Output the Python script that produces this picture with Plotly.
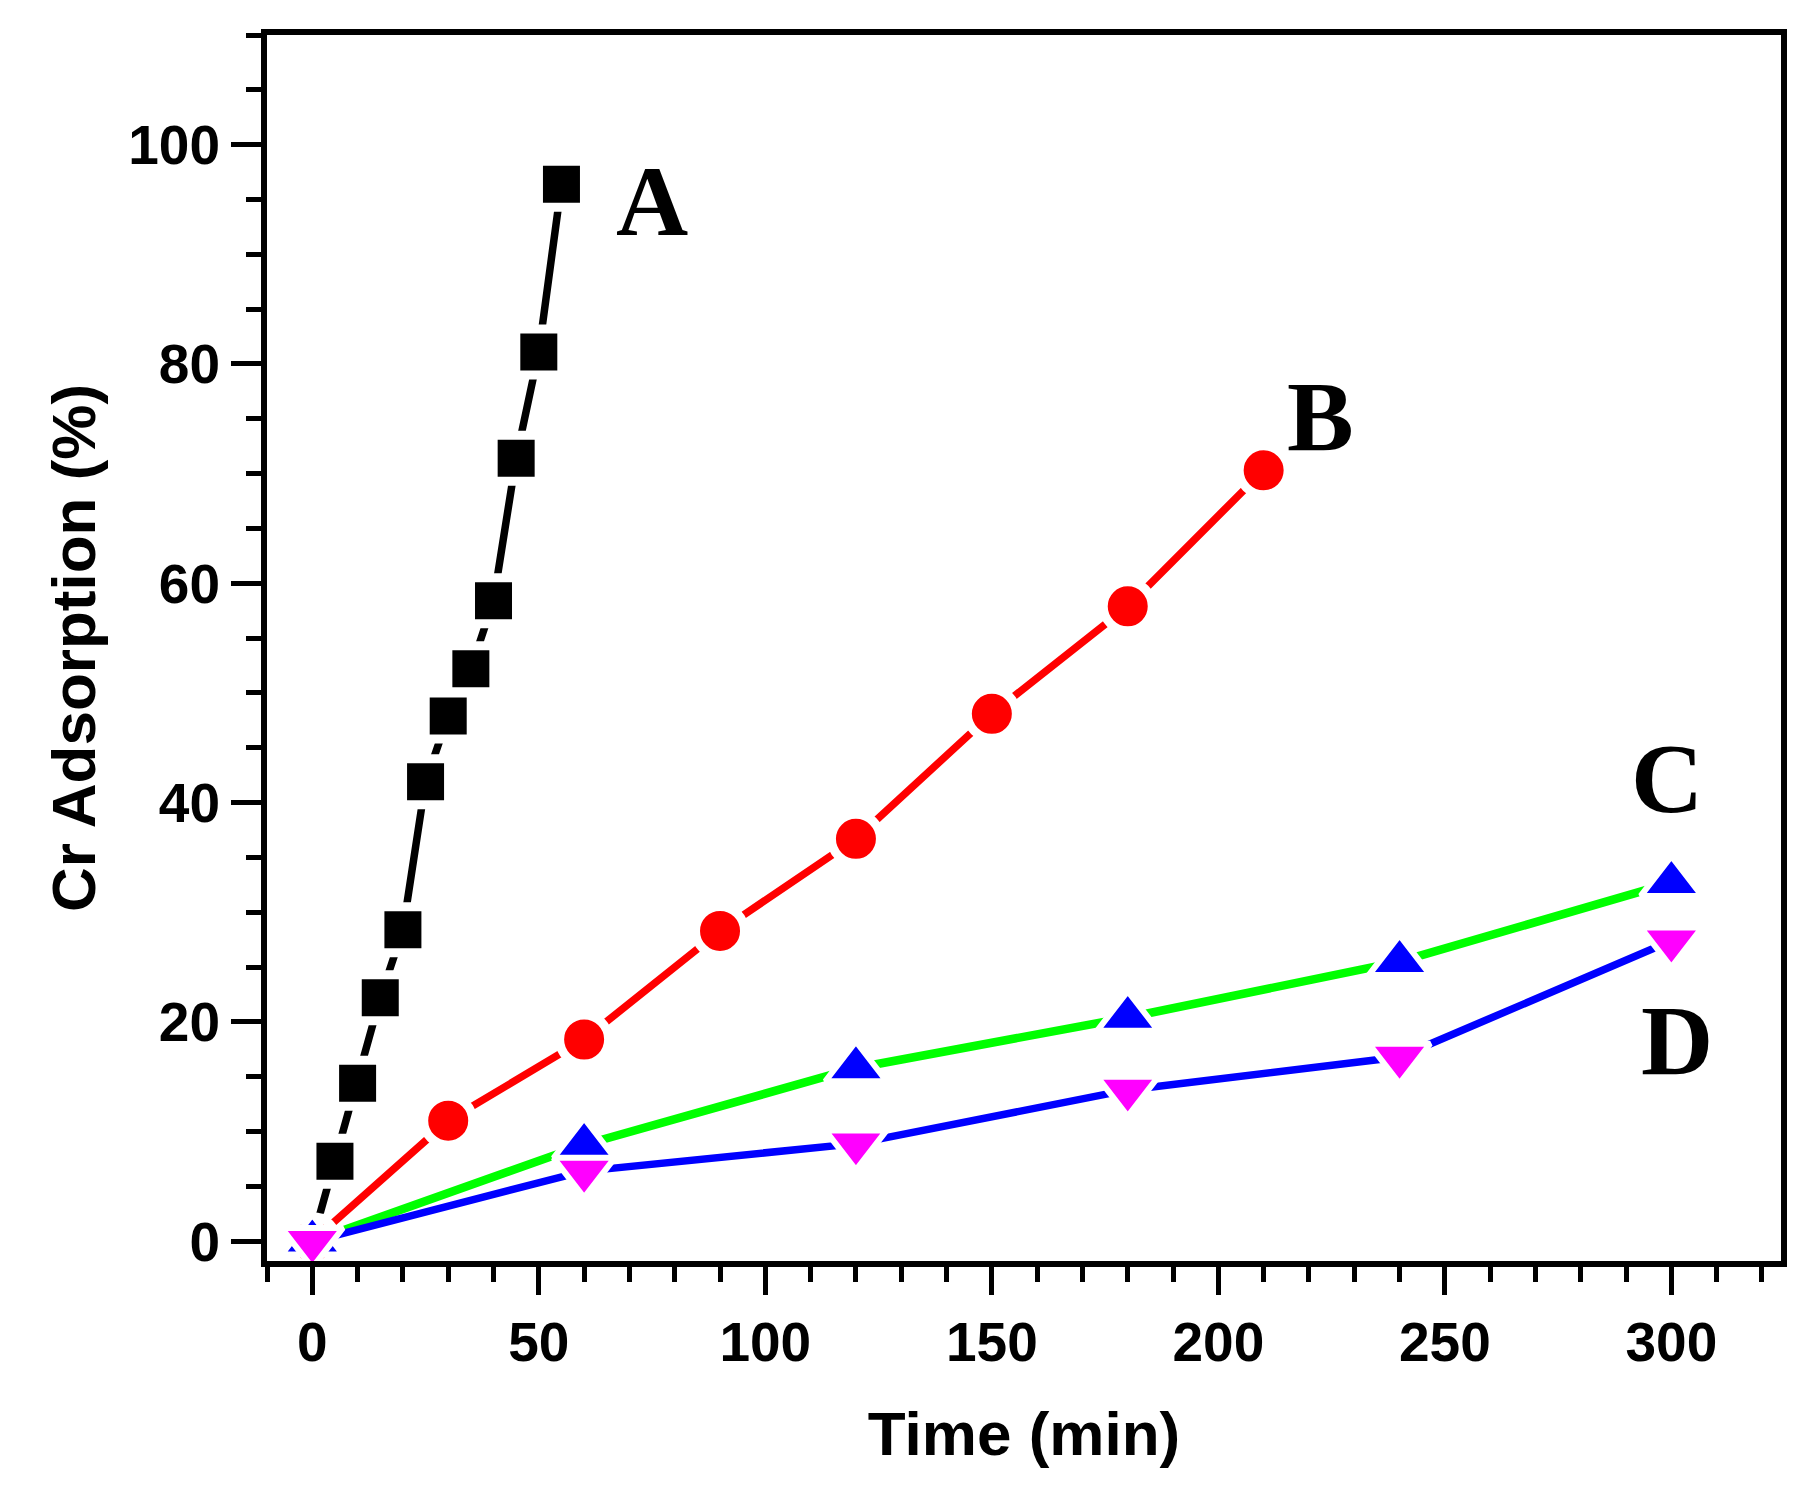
import plotly.graph_objects as go

# ---- data ----
time_A = [0, 5, 10, 15, 20, 25, 30, 35, 40, 45, 50, 55]
ads_A = [0, 7.3, 14.4, 22.2, 28.4, 41.9, 47.9, 52.2, 58.4, 71.4, 81.1, 96.4]

time_B = [0, 30, 60, 90, 120, 150, 180, 210]
ads_B = [0, 11.0, 18.4, 28.3, 36.7, 48.1, 57.9, 70.3]

time_C = [0, 60, 120, 180, 240, 300]
ads_C = [0, 8.8, 15.8, 20.4, 25.5, 32.7]

time_D = [0, 60, 120, 180, 240, 300]
ads_D = [0, 6.4, 8.9, 13.8, 16.8, 27.4]

labels = ["A", "B", "C", "D"]
label_x = [75.0, 222.5, 299.1, 301.3]
label_y = [94.8, 75.2, 42.2, 18.35]

x_title = "Time (min)"
y_title = "Cr Adsorption (%)"

GAP = 9      # white marker outline to imitate line gaps at markers
GAP_TRI = 6

fig = go.Figure()

fig.add_trace(go.Scatter(
    x=time_A, y=ads_A, mode="lines+markers", name="A",
    line=dict(color="black", width=7.5),
    marker=dict(symbol="square", size=37 + GAP, color="black",
                line=dict(color="white", width=GAP)),
))
fig.add_trace(go.Scatter(
    x=time_B, y=ads_B, mode="lines+markers", name="B",
    line=dict(color="#FF0000", width=7.5),
    marker=dict(symbol="circle", size=40 + GAP, color="#FF0000",
                line=dict(color="white", width=GAP)),
))
fig.add_trace(go.Scatter(
    x=time_C, y=ads_C, mode="lines+markers", name="C",
    line=dict(color="#00FF00", width=8.5),
    marker=dict(symbol="triangle-up", size=53, color="#0000FF",
                line=dict(color="white", width=GAP_TRI)),
))
fig.add_trace(go.Scatter(
    x=time_D, y=ads_D, mode="lines+markers", name="D",
    line=dict(color="#0000FF", width=7.5),
    marker=dict(symbol="triangle-down", size=53, color="#FF00FF",
                line=dict(color="white", width=GAP_TRI)),
))

for t, xv, yv in zip(labels, label_x, label_y):
    fig.add_annotation(
        x=xv, y=yv, xref="x", yref="y", text=t, showarrow=False,
        xanchor="center", yanchor="middle",
        font=dict(family="Liberation Serif", size=100, color="black", weight="bold"),
    )

tick_font = dict(family="Liberation Sans", size=55, color="black", weight="bold")
title_font = dict(family="Liberation Sans", size=62, color="black", weight="bold")

fig.update_layout(
    xaxis=dict(
        range=[-10, 324.2], tick0=0, dtick=50,
        showgrid=False, zeroline=False,
        showline=True, linecolor="black", linewidth=6, mirror=True,
        ticks="outside", ticklen=28, tickwidth=5, tickcolor="black",
        minor=dict(dtick=10, ticklen=15, tickwidth=5, tickcolor="black", ticks="outside"),
        tickfont=tick_font,
        title=dict(text=x_title, font=title_font, standoff=42),
    ),
    yaxis=dict(
        range=[-1.8, 110], tick0=0, dtick=20,
        showgrid=False, zeroline=False,
        showline=True, linecolor="black", linewidth=6, mirror=True,
        ticks="outside", ticklen=30, tickwidth=5, tickcolor="black",
        minor=dict(dtick=5, ticklen=15, tickwidth=5, tickcolor="black", ticks="outside"),
        tickfont=tick_font,
        title=dict(text=y_title, font=title_font, standoff=15),
    ),
    width=1801, height=1490,
    margin=dict(l=259, r=28, t=27, b=237, autoexpand=False),
    paper_bgcolor="white", plot_bgcolor="white",
    showlegend=False,
)

fig.write_html("out.html")
